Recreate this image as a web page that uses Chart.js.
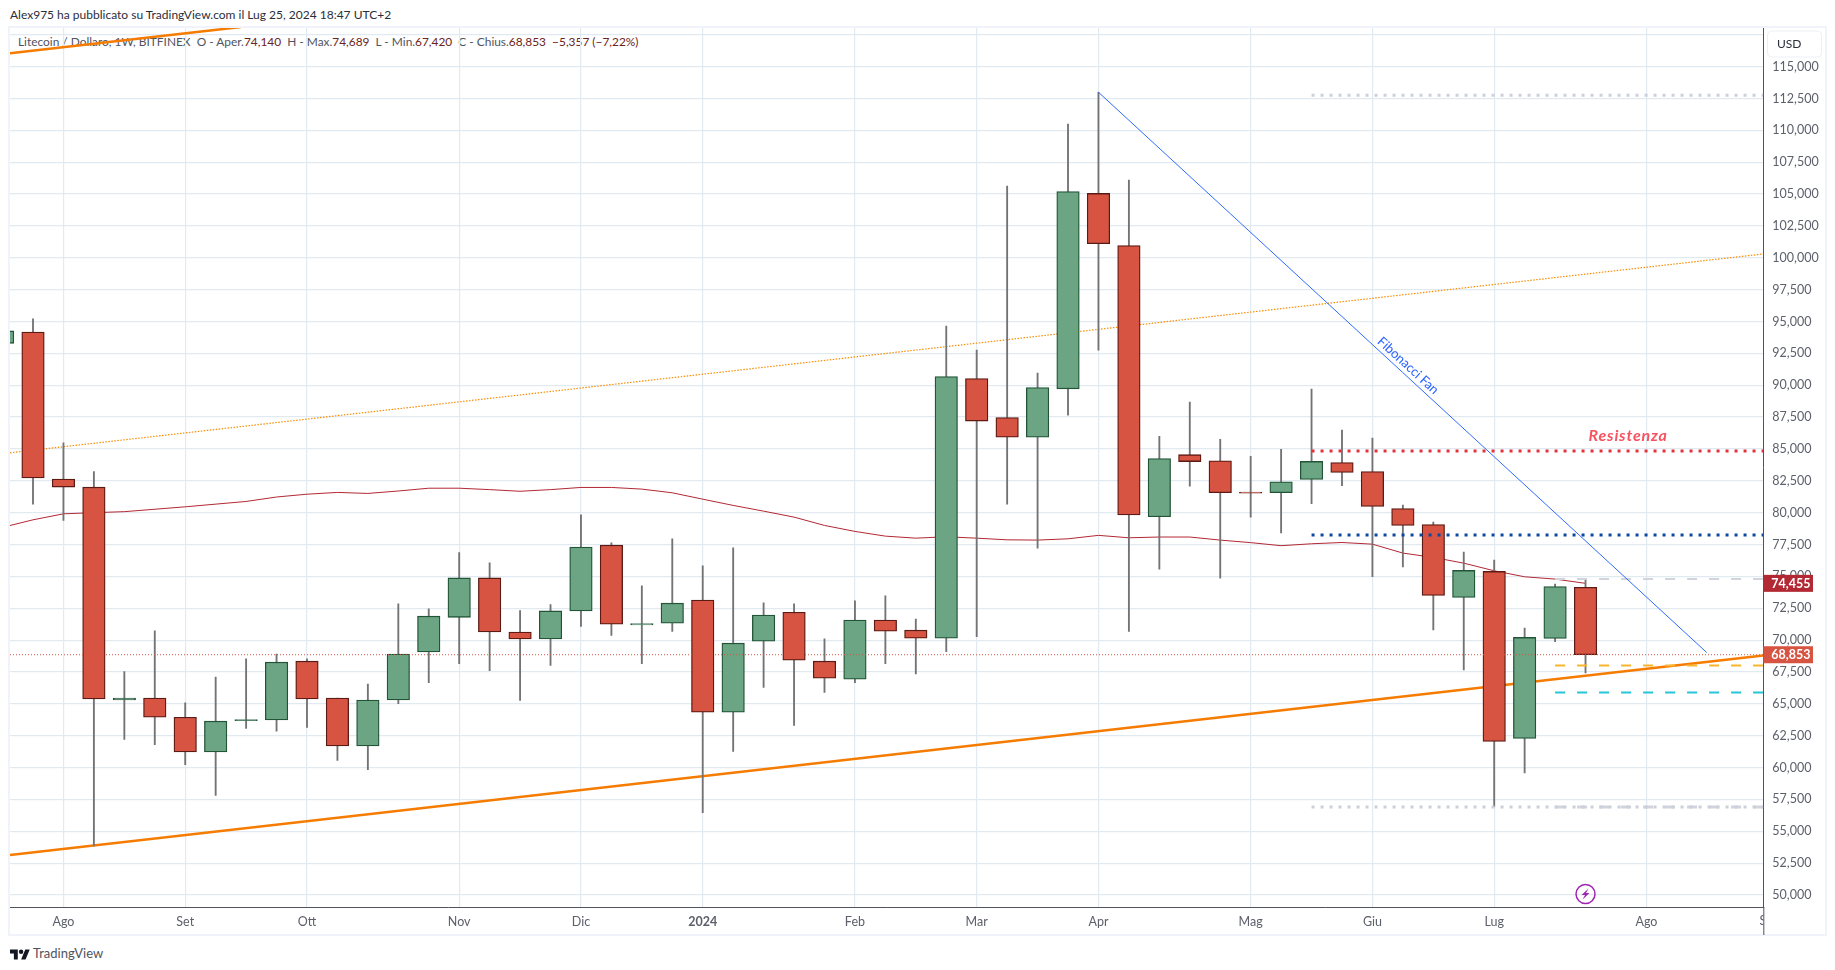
<!DOCTYPE html>
<html>
<head>
<meta charset="utf-8">
<title>Litecoin / Dollaro</title>
<script src="https://cdn.jsdelivr.net/npm/chart.js@4/dist/chart.umd.min.js"></script>
<style>
    html, body { margin: 0; padding: 0; background: #fff; width: 1835px; height: 970px; overflow: hidden; }
    body { position: relative; font-family: Lato, sans-serif; }
    #heading { position: absolute; left: 10px; top: 7px; font-size: 12px; color: #2a2e39; white-space: nowrap; }
    #legend { position: absolute; left: 18px; top: 34px; font-size: 11.9px; color: #50535e; white-space: pre; }
    #legend b { font-weight: normal; color: #6b2420; }
    #brand { position: absolute; left: 10px; top: 945px; font-size: 13px; color: #50535e; display: flex; align-items: center; gap: 3px; }
    #candles { position: absolute; left: 0; top: 0; }
</style>
</head>
<body>
<div id="heading">Alex975 ha pubblicato su TradingView.com il Lug 25, 2024 18:47 UTC+2</div>
<div id="legend">Litecoin / Dollaro, 1W, BITFINEX  O - Aper.<b>74,140</b>  H - Max.<b>74,689</b>  L - Min.<b>67,420</b>  C - Chius.<b>68,853</b>  <b>−5,357 (−7,22%)</b></div>
<div id="brand">
    <svg width="20" height="13" viewBox="0 0 36 22"><path fill="#131722" d="M14 22H7V11H0V4h14v18zM28 22h-8l7.5-18h8L28 22z"/><circle fill="#131722" cx="20" cy="8" r="4"/></svg>
    <span>TradingView</span>
</div>
<canvas id="candles" width="1835" height="970"></canvas>
<script>
// weekly candles, week 0 = first full candle on the left
const weeks = [-1, 0, 1, 2, 3, 4, 5, 6, 7, 8, 9, 10, 11, 12, 13, 14, 15, 16, 17, 18, 19, 20, 21, 22, 23, 24, 25, 26, 27, 28, 29, 30, 31, 32, 33, 34, 35, 36, 37, 38, 39, 40, 41, 42, 43, 44, 45, 46, 47, 48, 49, 50, 51];
const opens = [93290, 94170, 82640, 82000, 65300, 65460, 63950, 61220, 63690, 63730, 68350, 65460, 61690, 65300, 69070, 71790, 74880, 70640, 70090, 72290, 77450, 71200, 71330, 73140, 64340, 69920, 72190, 68350, 66930, 71570, 70780, 70150, 90530, 87470, 85930, 89720, 105050, 100960, 79680, 84550, 84070, 81620, 81570, 82600, 83940, 83230, 80330, 79070, 73350, 75390, 62290, 70130, 74140];
const highs = [94600, 95220, 85480, 83220, 67530, 70720, 65080, 67110, 68540, 68900, 68540, 65460, 66560, 72840, 72450, 76860, 76060, 72320, 72780, 79830, 77640, 74260, 77950, 75830, 77250, 72930, 72850, 70100, 73080, 73480, 71650, 94650, 92760, 105620, 90950, 110490, 112990, 106100, 85990, 88670, 85750, 84430, 84970, 89690, 86480, 85850, 80590, 79260, 76900, 76280, 70940, 74390, 74689];
const lows = [93000, 80660, 79390, 53850, 62210, 61800, 60230, 57810, 63070, 62850, 63150, 60560, 59840, 65020, 66670, 68160, 67610, 65270, 68020, 71080, 70360, 68160, 70680, 56470, 61260, 66280, 63300, 65890, 66670, 68160, 67340, 69100, 70270, 80670, 77210, 87650, 92760, 70690, 75560, 82080, 74870, 79650, 78420, 80700, 82110, 74970, 75750, 70810, 67670, 56930, 59590, 69870, 67420];
const closes = [94260, 82720, 82010, 65380, 65460, 63950, 61220, 63640, 63770, 68270, 65380, 61690, 65300, 68900, 71880, 74880, 70640, 70090, 72290, 77300, 71250, 71300, 72900, 64340, 69760, 71960, 68430, 67010, 71570, 70700, 70150, 90680, 87190, 85930, 89810, 105200, 101110, 79830, 84250, 84010, 81570, 81540, 82420, 84020, 83150, 80490, 79000, 73500, 75470, 62050, 70210, 74210, 68853];

// 100 week moving average, red line
const maWeeks = [-1, 0, 1, 2, 3, 5, 7, 8, 9, 10, 11, 12, 13, 14, 15, 16, 17, 18, 19, 20, 21, 22, 23, 24, 25, 26, 27, 28, 29, 30, 31, 32, 33, 34, 35, 36, 37, 38, 39, 40, 41, 42, 43, 44, 45, 46, 47, 48, 49, 50, 51];
const maValues = [78850, 79440, 79910, 80000, 80080, 80460, 80880, 81230, 81450, 81590, 81510, 81700, 81920, 81920, 81810, 81680, 81810, 81980, 81980, 81850, 81560, 81060, 80570, 80120, 79650, 79000, 78530, 78160, 78000, 78110, 78000, 77870, 77850, 77950, 78220, 78030, 78090, 78090, 77850, 77650, 77410, 77560, 77660, 77530, 76830, 76490, 76040, 75440, 74970, 74790, 74455];

// drawings, as [week, price] ends
const supportLine = [[-0.756, 53140], [56.84, 68800]];
const upperSupportLine = [[-0.756, 116050], [6.83, 118110]];
const channelLine = [[-0.756, 84700], [56.84, 100300]];
const fanLine = [[35, 112990], [54.98, 69030]];

const levelStart = 42;
const shortLevelStart = 50;
const axisEnd = 56.84;
const topLevel = 112750;
const resistanceLevel = 84830;
const blueLevel = 78240;
const bottomLevel = 56900;
const greyDashLevel = 74790;
const amberLevel = 68010;
const cyanLevel = 65890;
const lastClose = 68853;
const lastAverage = 74455;

const priceTicks = [50000, 52500, 55000, 57500, 60000, 62500, 65000, 67500, 70000, 72500, 75000, 77500, 80000, 82500, 85000, 87500, 90000, 92500, 95000, 97500, 100000, 102500, 105000, 107500, 110000, 112500, 115000, 117500];
const monthWeeks = [1, 5, 9, 14, 18, 22, 27, 31, 35, 40, 44, 48, 53];
const monthLabels = ['Ago', 'Set', 'Ott', 'Nov', 'Dic', '2024', 'Feb', 'Mar', 'Apr', 'Mag', 'Giu', 'Lug', 'Ago'];

const UP = '#6ba583', UP_EDGE = '#225437', DOWN = '#d75442', DOWN_EDGE = '#5b1a13', WICK = '#737375';
const GRID = '#e2eaf1', AXIS = '#50535e', TICK_TEXT = '#5d606b';

function toPoints(pair) {
    return pair.map(p => ({ x: p[0], y: p[1] }));
}

function level(start, price, color, dash, width, order) {
    return {
        type: 'line',
        data: [{ x: start, y: price }, { x: axisEnd, y: price }],
        borderColor: color,
        borderWidth: width,
        borderDash: dash,
        pointRadius: 0,
        order: order
    };
}

function trend(points, color, width, dash, order) {
    return {
        type: 'line',
        data: points,
        borderColor: color,
        borderWidth: width,
        borderDash: dash,
        pointRadius: 0,
        order: order
    };
}

function priceTag(ctx, scale, right, value, color) {
    const y = scale.getPixelForValue(value);
    ctx.fillStyle = color;
    ctx.fillRect(scale.left, y - 8.5, right - scale.left, 17);
    ctx.fillStyle = '#fff';
    ctx.font = 'bold 12.5px Lato';
    ctx.textAlign = 'left';
    ctx.textBaseline = 'middle';
    ctx.fillText(value.toLocaleString('en-US'), scale.left + 8, y + 0.5);
}

// frame, price tags, text notes and the bolt mark
const overlay = {
    id: 'overlay',
    beforeDraw(chart) {
        const ctx = chart.ctx;
        ctx.save();
        ctx.strokeStyle = '#f0f3fa';
        ctx.lineWidth = 2;
        ctx.strokeRect(9, 27, 1817, 908);
        ctx.restore();
    },
    afterDraw(chart) {
        const ctx = chart.ctx, x = chart.scales.x, y = chart.scales.y, area = chart.chartArea;
        ctx.save();

        // axis line runs on below the time scale
        ctx.strokeStyle = AXIS;
        ctx.lineWidth = 1;
        ctx.beginPath();
        ctx.moveTo(area.right + 0.5, area.bottom);
        ctx.lineTo(area.right + 0.5, 935);
        ctx.stroke();

        // next month label, cut by the price axis
        ctx.save();
        ctx.beginPath();
        ctx.rect(area.left, area.bottom + 1, area.right - area.left, 30);
        ctx.clip();
        ctx.fillStyle = TICK_TEXT;
        ctx.font = '12.5px Lato';
        ctx.textAlign = 'center';
        ctx.textBaseline = 'middle';
        ctx.fillText('Set', area.right + 5, area.bottom + 14);
        ctx.restore();

        priceTag(ctx, y, 1813, lastAverage, '#b22833');
        priceTag(ctx, y, 1813, lastClose, DOWN);

        // currency box
        ctx.fillStyle = '#fff';
        ctx.strokeStyle = '#eceff4';
        ctx.beginPath();
        ctx.roundRect(1767.5, 31, 54, 26, 4);
        ctx.fill();
        ctx.stroke();
        ctx.fillStyle = '#2a2e39';
        ctx.font = '12px Lato';
        ctx.textAlign = 'left';
        ctx.textBaseline = 'middle';
        ctx.fillText('USD', 1777, 44.5);

        // drawing labels
        ctx.fillStyle = '#f7525f';
        ctx.font = 'italic bold 16px Lato';
        ctx.letterSpacing = '0.8px';
        ctx.textAlign = 'center';
        ctx.fillText('Resistenza', x.getPixelForValue(52.4), y.getPixelForValue(86050));
        ctx.letterSpacing = '0px';

        ctx.save();
        ctx.translate(x.getPixelForValue(45.17), y.getPixelForValue(91540));
        ctx.rotate(42.5 * Math.PI / 180);
        ctx.fillStyle = '#2962ff';
        ctx.font = '13px Lato';
        ctx.fillText('Fibonacci Fan', 0, 0);
        ctx.restore();

        // bolt mark under the last candle
        const bx = x.getPixelForValue(51), by = y.getPixelForValue(50000) - 1;
        ctx.strokeStyle = '#9c27b0';
        ctx.fillStyle = '#9c27b0';
        ctx.lineWidth = 1.5;
        ctx.beginPath();
        ctx.arc(bx, by, 9.5, 0, Math.PI * 2);
        ctx.stroke();
        ctx.beginPath();
        ctx.moveTo(bx + 3, by - 5.5);
        ctx.lineTo(bx - 4, by + 1);
        ctx.lineTo(bx - 0.5, by + 1);
        ctx.lineTo(bx - 3, by + 5.5);
        ctx.lineTo(bx + 4, by - 1);
        ctx.lineTo(bx + 0.5, by - 1);
        ctx.closePath();
        ctx.fill();

        ctx.restore();
    }
};

const chart = new Chart(document.getElementById('candles').getContext('2d'), {
    type: 'bar',
    data: {
        datasets: [
            trend(toPoints(supportLine), '#f57c00', 2.5, [], 8),
            trend(toPoints(upperSupportLine), '#f57c00', 2.5, [], 8),
            trend(toPoints(channelLine), '#fb8c00', 1.2, [1.5, 1.5], 8),
            trend(maWeeks.map((w, i) => ({ x: w, y: maValues[i] })), '#b22833', 1, [], 7),
            {
                label: 'wick',
                data: weeks.map((w, i) => ({ x: w, y: [lows[i], highs[i]] })),
                backgroundColor: WICK,
                barThickness: 1.2,
                grouped: false,
                order: 6
            },
            {
                label: 'body',
                data: weeks.map((w, i) => ({ x: w, y: [opens[i], closes[i]] })),
                backgroundColor: weeks.map((w, i) => closes[i] >= opens[i] ? UP : DOWN),
                borderColor: weeks.map((w, i) => closes[i] >= opens[i] ? UP_EDGE : DOWN_EDGE),
                borderWidth: 1.3,
                borderSkipped: false,
                barThickness: 22.5,
                grouped: false,
                order: 5
            },
            level(levelStart, topLevel, '#ccd0da', [3, 6], 3, 3),
            level(levelStart, bottomLevel, '#ccd0da', [3, 6], 3, 3),
            level(shortLevelStart, bottomLevel, '#d1d4dc', [10, 12], 3, 3),
            level(levelStart, resistanceLevel, '#e2333d', [3, 6], 3, 3),
            level(levelStart, blueLevel, '#0d47a1', [3, 6], 3, 3),
            level(shortLevelStart, greyDashLevel, '#d1d4dc', [10, 12], 2, 3),
            level(shortLevelStart, amberLevel, '#f9b52c', [10, 12], 2, 3),
            level(shortLevelStart, cyanLevel, '#26c6da', [10, 12], 2, 3),
            level(-0.756, lastClose, '#d75442', [1, 2], 1, 2),
            trend(toPoints(fanLine), '#2f6bff', 1, [], 1)
        ]
    },
    options: {
        responsive: false,
        animation: false,
        devicePixelRatio: 1,
        layout: { padding: { left: 10, top: 28, right: 10, bottom: 35 } },
        plugins: { legend: { display: false }, tooltip: { enabled: false } },
        scales: {
            x: {
                type: 'linear',
                min: -0.756,
                max: axisEnd,
                offset: false,
                grid: { color: GRID, lineWidth: 1.2, offset: false, drawTicks: false },
                border: { display: true, color: AXIS },
                afterBuildTicks: scale => { scale.ticks = monthWeeks.map(v => ({ value: v })); },
                afterFit: scale => { scale.height = 28; },
                ticks: {
                    autoSkip: false,
                    maxRotation: 0,
                    padding: 7,
                    color: TICK_TEXT,
                    font: c => ({ family: 'Lato', size: 12.5, weight: c.tick && c.tick.value === 22 ? 'bold' : 'normal' }),
                    callback: value => monthLabels[monthWeeks.indexOf(value)]
                }
            },
            y: {
                position: 'right',
                min: 49060,
                max: 118030,
                grid: { color: GRID, lineWidth: 1.2, drawTicks: false },
                border: { display: true, color: AXIS },
                afterBuildTicks: scale => { scale.ticks = priceTicks.map(v => ({ value: v })); },
                afterFit: scale => { scale.width = 61.7; },
                ticks: {
                    autoSkip: false,
                    padding: 9,
                    color: TICK_TEXT,
                    font: { family: 'Lato', size: 12.5 },
                    callback: value => value > 115000 ? '' : value.toLocaleString('en-US')
                }
            }
        }
    },
    plugins: [overlay]
});
</script>
</body>
</html>
